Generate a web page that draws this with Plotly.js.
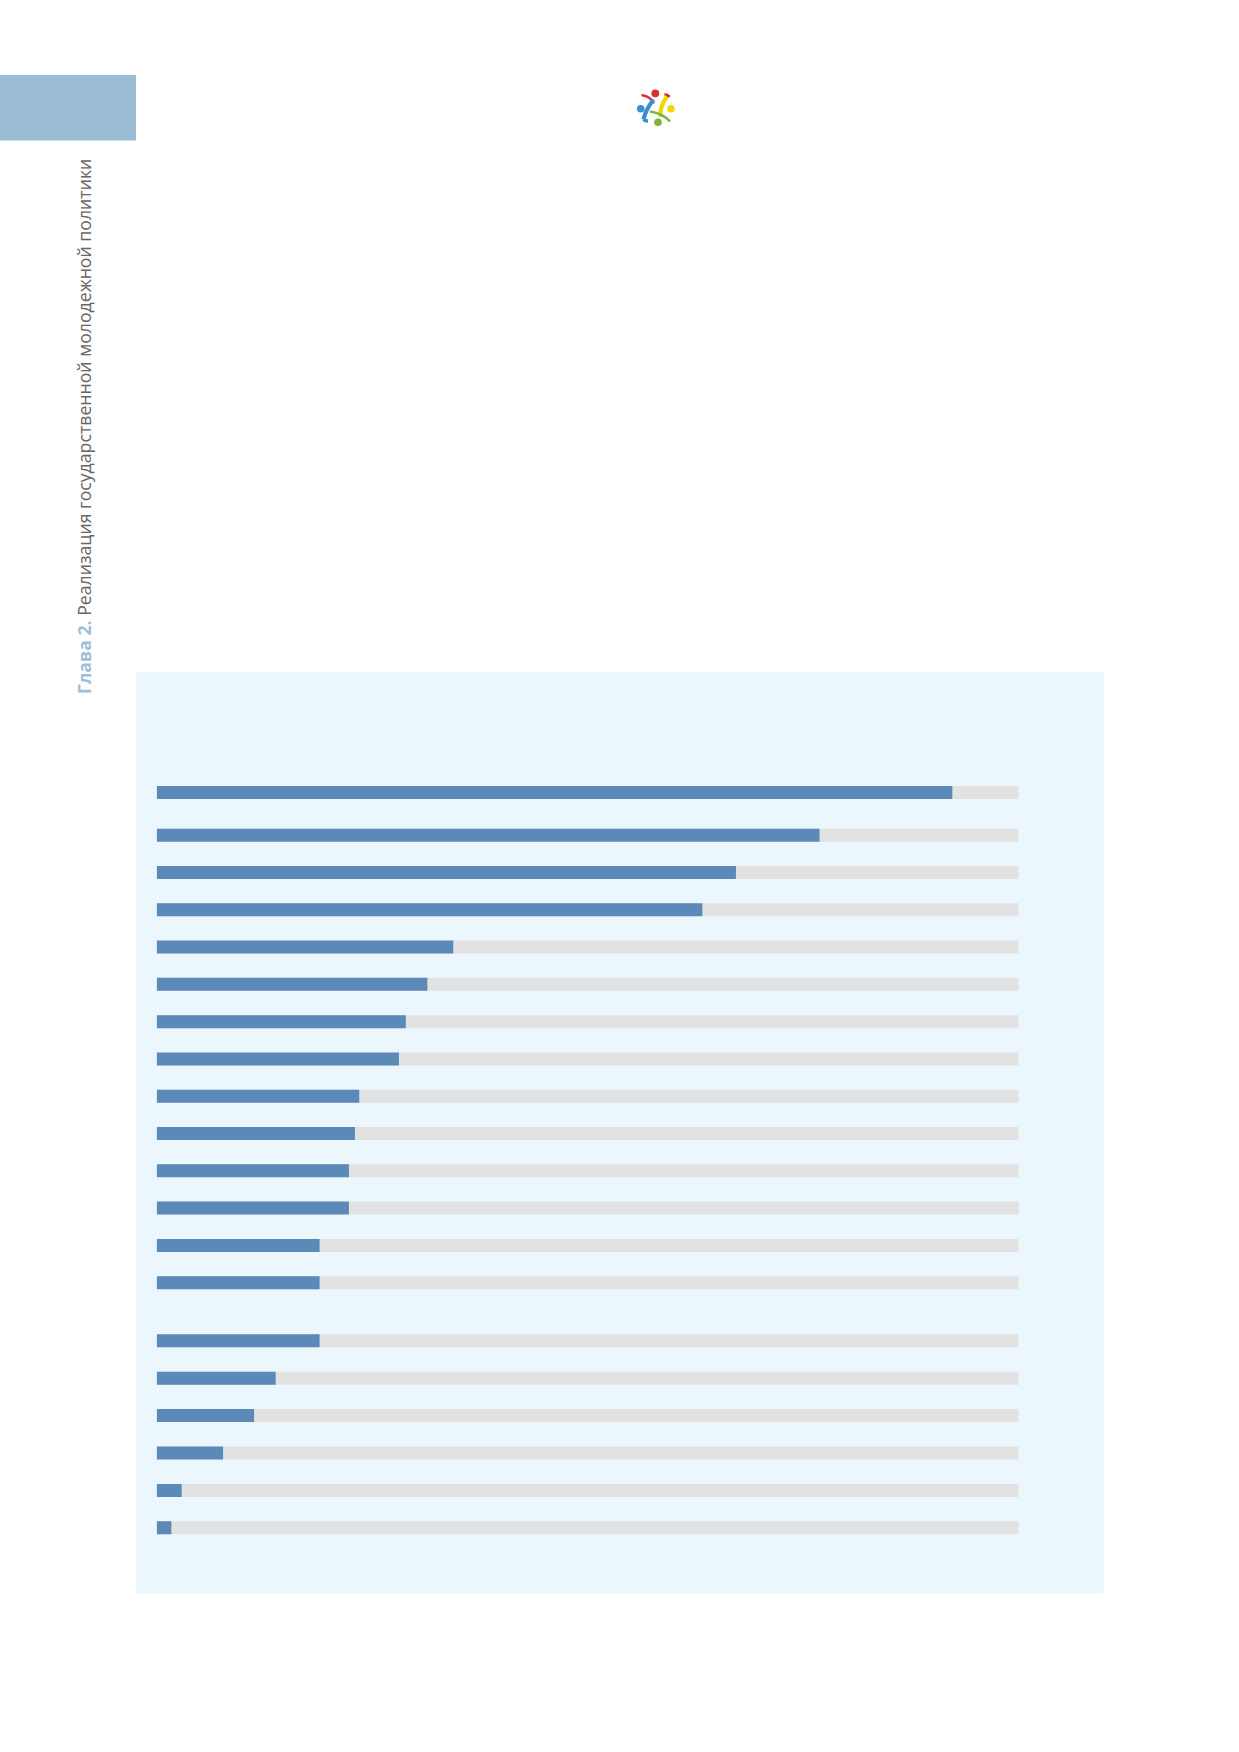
<!DOCTYPE html>
<html>
<head>
<meta charset="utf-8">
<script src="https://cdn.plot.ly/plotly-3.0.1.min.js"></script>
<style>
  html, body { margin: 0; padding: 0; background: #ffffff; }
  #chart { width: 1239px; height: 1752px; }
</style>
</head>
<body>
<div id="chart"></div>
<script>
// ---- data (labels are not shown in the reference) ----
const categories = [
  "Пункт 1", "Пункт 2", "Пункт 3", "Пункт 4", "Пункт 5",
  "Пункт 6", "Пункт 7", "Пункт 8", "Пункт 9", "Пункт 10",
  "Пункт 11", "Пункт 12", "Пункт 13", "Пункт 14", "Пункт 15",
  "Пункт 16", "Пункт 17", "Пункт 18", "Пункт 19", "Пункт 20"
];
const values = [
  92.3, 76.9, 67.2, 63.3, 34.4,
  31.4, 28.9, 28.1, 23.5, 23.0,
  22.3, 22.3, 18.9, 18.9, 18.9,
  13.8, 11.3, 7.7, 2.9, 1.7
];
const maxValue = 100;
// groups of rows (the reference leaves extra space between these blocks)
const groupSizes = [1, 13, 6];
const sideTitleChapter = "Глава 2.";
const sideTitleText = "Реализация государственной молодежной политики";

// ---- page geometry helpers ----
const W = 1239, H = 1752;
const px = x => x / W;
const py = y => 1 - y / H;

const blue = "#5b8ab8";
const track = "#e2e2e2";

const xDomain = [px(156.7), px(1018.7)];
const groupTops = [773.8, 816.55, 1322.0];
const rowStep = [37.35, 37.29, 37.42];
const barThickness = 13;

const traces = [];
const layout = {
  width: W, height: H,
  margin: {l: 0, r: 0, t: 0, b: 0},
  paper_bgcolor: "#ffffff",
  plot_bgcolor: "rgba(0,0,0,0)",
  barmode: "overlay",
  showlegend: false,
  shapes: [],
  annotations: []
};

let start = 0;
groupSizes.forEach((n, g) => {
  const cats = categories.slice(start, start + n);
  const vals = values.slice(start, start + n);
  start += n;
  const sfx = g === 0 ? "" : String(g + 1);
  const w = barThickness / rowStep[g];
  traces.push({
    type: "bar", orientation: "h",
    y: cats, x: cats.map(() => maxValue),
    xaxis: "x" + sfx, yaxis: "y" + sfx,
    width: w,
    marker: {color: track, line: {width: 0}},
    hoverinfo: "skip"
  });
  traces.push({
    type: "bar", orientation: "h",
    y: cats, x: vals,
    xaxis: "x" + sfx, yaxis: "y" + sfx,
    width: w,
    marker: {color: blue, line: {width: 0}},
    hovertemplate: "%{y}: %{x}%<extra></extra>"
  });
  const top = groupTops[g];
  const bottom = top + n * rowStep[g];
  layout["xaxis" + sfx] = {
    domain: xDomain, range: [0, maxValue], visible: false, fixedrange: true,
    anchor: "y" + sfx
  };
  layout["yaxis" + sfx] = {
    domain: [py(bottom), py(top)], type: "category",
    categoryorder: "array", categoryarray: cats,
    range: [n - 0.5, -0.5], visible: false, fixedrange: true,
    anchor: "x" + sfx
  };
});

// ---- page decoration ----
// light-blue panel behind the chart
layout.shapes.push({
  type: "rect", xref: "paper", yref: "paper", layer: "below",
  x0: px(136), x1: px(1103.7), y0: py(1593.3), y1: py(672),
  fillcolor: "#ecf7fd", line: {width: 0}
});
// chapter tab on the left edge
layout.shapes.push({
  type: "rect", xref: "paper", yref: "paper", layer: "below",
  x0: 0, x1: px(136), y0: py(140.5), y1: py(75),
  fillcolor: "#9bbdd6", line: {width: 0}
});

// small logo (four figures around a circle)
function circ(cx, cy, r, color) {
  layout.shapes.push({
    type: "circle", xref: "paper", yref: "paper",
    x0: px(cx - r), x1: px(cx + r), y0: py(cy + r), y1: py(cy - r),
    fillcolor: color, line: {width: 0}
  });
}
function arc(pts, color, width) {
  const p = pts.map(q => px(q[0]).toFixed(6) + "," + py(q[1]).toFixed(6));
  layout.shapes.push({
    type: "path", xref: "paper", yref: "paper",
    path: "M" + p[0] + " Q" + p[1] + " " + p[2],
    line: {color: color, width: width}
  });
}
arc([[641.5, 95], [651, 96.5], [653.5, 103.5]], "#d7312f", 2.6);
arc([[664.5, 94.5], [667.5, 94.5], [669.5, 97]], "#d7312f", 3.0);
arc([[653.5, 99.5], [645.5, 110], [643.5, 119.5]], "#3b8fd0", 4.2);
arc([[643.5, 119.5], [645, 121], [648, 121]], "#3b8fd0", 3.6);
arc([[667, 96.5], [659.5, 106.5], [660.5, 117]], "#f4d600", 4.2);
arc([[650, 111.5], [663, 113.5], [670, 121.5]], "#7cb342", 2.4);
circ(655.3, 93.3, 3.9, "#d7312f");
circ(640.7, 108.7, 3.8, "#3b8fd0");
circ(671.0, 108.7, 3.8, "#f4d600");
circ(658.0, 122.3, 3.8, "#7cb342");

// vertical running title
layout.annotations.push({
  xref: "paper", yref: "paper", x: px(84), y: py(427),
  xanchor: "center", yanchor: "middle", textangle: -90, showarrow: false,
  text: '<span style="color:#9dbfd9"><b>' + sideTitleChapter + '</b></span> ' + sideTitleText,
  font: {family: "Open Sans, sans-serif", size: 17.7, color: "#666666"}
});

Plotly.newPlot("chart", traces, layout, {staticPlot: true, displayModeBar: false});
</script>
</body>
</html>
